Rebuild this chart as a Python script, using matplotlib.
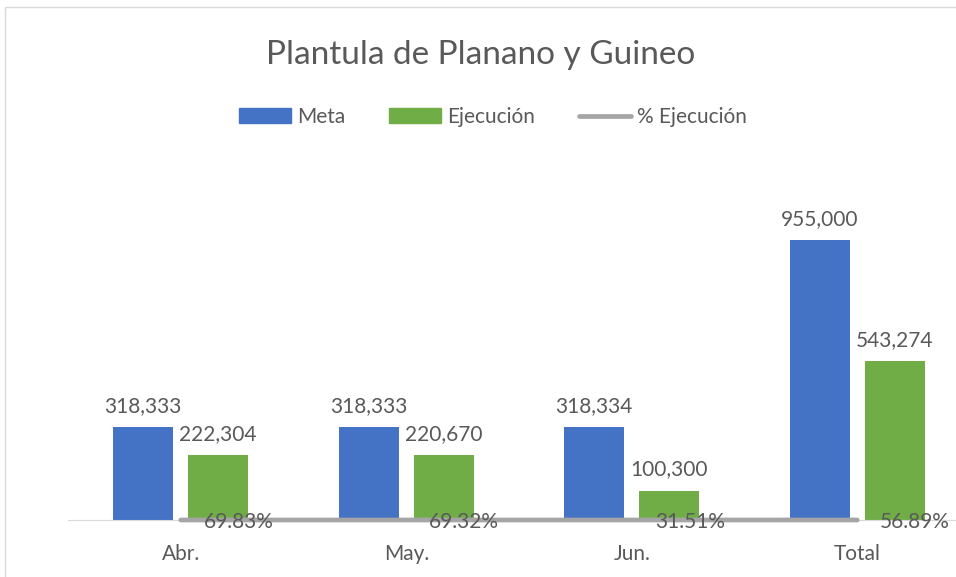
import matplotlib.pyplot as plt
from matplotlib.patches import Patch, Rectangle
from matplotlib.lines import Line2D
import numpy as np

categories = ['Abr.', 'May.', 'Jun.', 'Total']
meta = [318333, 318333, 318334, 955000]
ejecucion = [222304, 220670, 100300, 543274]
pct_ejecucion = [0.6983, 0.6932, 0.3151, 0.5689]

blue = '#4472C4'
green = '#70AD47'
gray = '#A5A5A5'
text_color = '#595959'

plt.rcParams['font.family'] = ['Lato', 'DejaVu Sans']

W, H = 956, 577
fig = plt.figure(figsize=(W / 100, H / 100), dpi=100)

# plot area in pixels: left 68, right 970 (cut off), baseline 520
ymax = 1200000
top_px = 520 - ymax * 280 / 955000
ax = fig.add_axes([68 / W, (H - 520) / H, (970 - 68) / W, (520 - top_px) / H])
ax.set_xlim(-0.5, 3.5)
ax.set_ylim(0, ymax)

x = np.arange(len(categories))
bw = 0.266
off = 0.166
b1 = ax.bar(x - off, meta, bw, color=blue, zorder=2)
b2 = ax.bar(x + off, ejecucion, bw, color=green, zorder=2)

for rect, v in zip(list(b1) + list(b2), meta + ejecucion):
    ax.annotate(f'{v:,}', (rect.get_x() + rect.get_width() / 2, v),
                xytext=(0, 11), textcoords='offset pixels', ha='center', va='bottom',
                fontsize=15, color=text_color)

ax.plot(x, pct_ejecucion, color=gray, lw=3.4, solid_capstyle='round', zorder=3, clip_on=False)
for xi, p in zip(x, pct_ejecucion):
    ax.annotate(f'{p * 100:.2f}%', (xi, p), xytext=(23, -2), textcoords='offset pixels',
                ha='left', va='center', fontsize=15, color=text_color, zorder=4)

for s in ['top', 'right', 'left']:
    ax.spines[s].set_visible(False)
ax.spines['bottom'].set_color('#D9D9D9')
ax.set_yticks([])
ax.set_xticks(x)
ax.set_xticklabels(categories, fontsize=15, color=text_color)
ax.tick_params(axis='x', length=0, pad=17)

fig.text(481 / W, 1 - 55 / H, 'Plantula de Planano y Guineo', ha='center', va='center',
         fontsize=24, color=text_color)

handles = [Patch(color=blue), Patch(color=green),
           Line2D([0], [0], color=gray, lw=3.4, solid_capstyle='round')]
fig.legend(handles, ['Meta', 'Ejecución', '% Ejecución'], loc='center',
           bbox_to_anchor=(493 / W, 1 - 117 / H), ncol=3, frameon=False,
           fontsize=15, labelcolor=text_color, handlelength=2.5, handleheight=0.72,
           handletextpad=0.3, columnspacing=2.1)

fig.patches.append(Rectangle((5 / W, -0.1), 1.2, 1 - 7 / H + 0.1, transform=fig.transFigure,
                             fill=False, edgecolor='#D9D9D9', lw=1))

plt.savefig('out.png', dpi=100)
